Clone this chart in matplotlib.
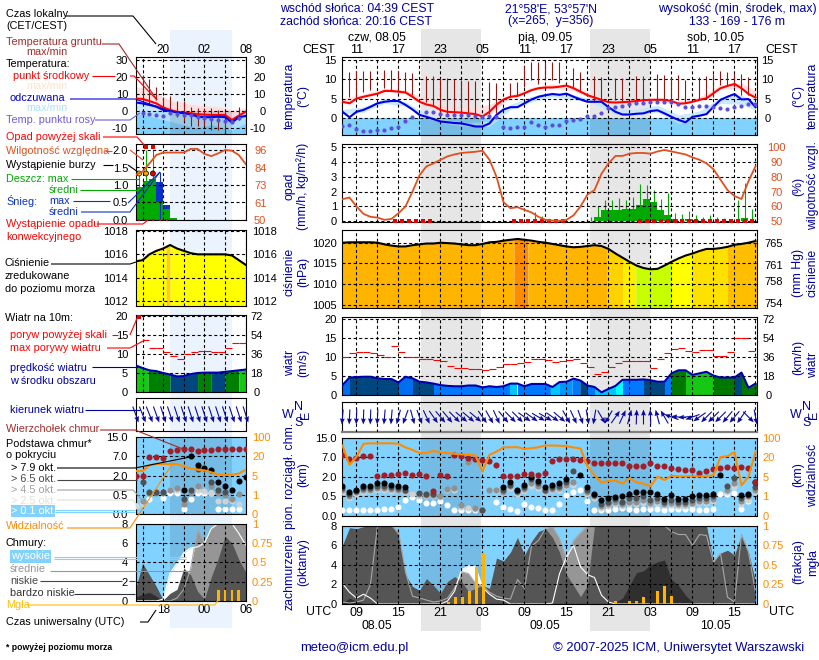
import numpy as np
import matplotlib
matplotlib.use("Agg")
import matplotlib.pyplot as plt

plt.rcParams['font.family'] = ['Liberation Sans', 'DejaVu Sans']
plt.rcParams['font.size'] = 8
plt.rcParams['lines.scale_dashes'] = False
plt.rcParams['axes.linewidth'] = 0.8
nan = np.nan

# ------------------------- long panels (hourly, first value 07 UTC 08.05) ---
temp_mid = [4.2,3.8,5.0,5.5,5.9,6.3,7.0,7.0,6.8,6.6,
            5.5,4.2,3.5,3.1,2.1,1.6,1.5,1.4,1.2,1.0,
            0.4,1.6,3.4,4.8,5.5,5.7,6.4,7.2,7.7,7.9,
            7.9,8.1,8.4,7.7,6.8,5.9,5.3,4.7,4.1,4.0,
            4.1,4.2,4.4,4.6,4.7,4.7,4.7,4.4,3.7,3.8,
            4.2,4.7,5.1,6.4,7.7,8.3,8.8,7.7,6.2,5.3]
temp_feel = [1.6,0.2,1.6,2.1,2.9,3.8,4.2,4.4,4.4,3.4,
             2.2,0.8,0.3,-0.3,-0.9,-1.1,-1.3,-1.4,-1.8,-2.2,
             -2.2,-1.4,0.8,2.2,2.8,2.8,3.8,4.8,5.5,5.9,
             6.2,6.0,6.3,5.5,4.8,4.2,4.2,4.2,2.8,1.6,
             0.9,0.9,1.1,1.2,1.8,2.0,1.2,0.3,-0.5,-1.1,
             0.3,0.6,1.0,2.9,4.7,5.5,6.2,4.8,4.9,2.8]
temp_dew = [-2.1,-1.9,-2.9,-3.3,-3.4,-3.0,-3.2,-2.5,-2.2,-0.7,
            0.2,nan,1.6,1.6,1.0,0.9,0.9,0.9,0.9,0.5,
            0.3,0.4,0.3,-2.4,-2.7,-2.4,-2.2,-1.0,-1.9,-2.2,
            -1.9,-1.8,-0.9,-0.5,-0.2,0.5,0.5,1.4,2.5,2.9,
            3.0,3.5,3.8,4.0,4.1,4.2,4.2,4.1,3.6,2.8,
            2.8,3.1,3.1,2.9,2.5,2.2,2.9,3.1,3.6,3.6]
band_t = [7,10,13,16,19,22,25,28,31,34,37,40,43,46,49,52,55,58,61,64,66]
pink_hi = [5,6.2,7.6,7.3,4.8,3,2.6,3.5,6,7.9,8.8,8.3,5.8,4.6,4.9,5.2,4.3,5.4,8.5,9,7]
pink_lo = [3.8,5.2,6.8,6.3,3.3,1.5,1,0.8,5.2,7,7.7,7,4.8,3.8,4,4.4,3.4,4.5,7.5,7.5,5]
feel_hi = [2.2,2.9,5,4.2,1,-0.5,-1.2,-0.8,3.5,5.6,6.7,6,4.7,2.5,2.2,3.3,0.8,1.8,5.3,6,4]
feel_lo = [1,1.5,3.8,3,-0.2,-1.5,-2.2,-2.2,2.2,4.2,5.5,4.8,3.7,0.8,0.7,1.5,-1.4,0.3,3.8,3.5,2]
soil_t = [8,9,10,11,13,14,15,16,17,19,20,21,22,23,24,25,26,28,29,31,32,33,34,35,36,37,38,
          40,41,43,44,46,47,49,50,52,53,54,55,56,58,59,60,61,62,63,64,65]
soil_max = [11.8,12.2,12.2,12.2,12.4,12.4,12.2,11.8,11.6,10.9,10.9,10.3,10.3,10,9.8,9.6,9.6,9.2,9,9,9.4,13.5,14.4,14.4,14.6,14.6,14.6,
            13,11.8,10.9,10.7,10.3,10.3,10.9,10.9,11.4,11.1,10.7,11.1,9.8,10.7,10.9,11.4,12.2,12,11.6,11.4,10.5]
soil_min = [5.5,5.1,6.8,7.2,7.7,7.2,7.2,6.8,5.9,4.2,3.4,1.2,0.8,0.8,0.8,0.3,0.2,1,1.2,5.7,5.9,8.1,9.8,8.8,9.8,9.8,9,
            7.9,6.8,4.2,4.7,4.7,4.2,4.1,4.2,4.7,4.7,4.2,4.7,3.8,4.7,4.9,5.5,8.5,8.5,8.1,5.9,5.9]

humidity = [64.9,66,60,55,53,52.5,51,51.6,55.4,60,
            70,81,87,89,91.4,93.7,95,96,96.4,96.8,
            97.5,91.4,80,62.8,58.8,59.5,57.7,56,53,51,
            50.5,50.3,51,54,60,68,71,82,89,94,
            94,95.5,96,96,95.5,97,98,97,96,95,
            93,91.4,89,85,78,71,67,65,77,87]
rain_mean = [0,0,0,0,0,0,0,0,0,0,
             0,0,0,0,0,0,0,0,0,0,
             0,0,0,0,0,0,0,0.02,0.02,0,
             0,0,0,0,0,0.05,0.3,0.75,0.75,0.75,
             0.8,0.8,1.1,1.5,1.3,0.75,0.4,0.13,0.05,0.13,
             0.1,0.05,0.05,0.05,0.05,0.05,0.05,0.2,0.05,0]
rain_max = [0,0,0,0,0,0,0,0,0,0,
            0,0,0,0,0,0,0,0,0,0,
            0,0,0,0,0,0,0,0.65,0.35,0,
            0,0,0,0,0,0.3,1,1.45,1.4,1.55,
            1.45,1.65,2.5,2.45,2.1,1.5,1.9,0.55,0.5,0.7,
            0.45,0.3,0.45,0.3,0.2,0,1.45,2.55,0.8,0]
conv_hours = [14.5,15.5,16.5,17.5,18.5,19.5,31.5,32.5,33.5,34.5,35.5,36.5,37.5,38.5,
              49.5,50.5,51.5,52.5,53.5,54.5,55.5,56.5,57.5,58.5,59.5,60.5,61.5,62.5,63.5,64.5,65.5]

pressure = [1020,1020.1,1020.1,1020.1,1020.1,1020,1019.6,1019.3,1019.1,1019.1,
            1019.4,1019.6,1019.8,1019.8,1020,1019.9,1019.8,1019.6,1019.4,1019.4,
            1019.7,1020.1,1020.2,1020.5,1020.7,1020.9,1020.7,1020.5,1020.2,1020,
            1019.7,1019.4,1019.1,1018.9,1019,1019.2,1019.4,1019.2,1018.5,1017.4,
            1016.4,1015.4,1014.5,1013.9,1013.6,1013.7,1014.5,1015.4,1016.2,1016.9,
            1017.4,1018,1018.5,1018.5,1018.7,1019,1019.5,1019.7,1020,1020.4]
press_breaks = [7,31.5,33.5,44.8,47,48.9,54,57,62,66.3]
press_colors = ['#ffb400','#ff8c00','#ffb400','#ffd200','#fff000','#c8ff00','#ffff00','#ffe100','#ffbe00']

wind_speed = [2.6,4.6,4.7,4.8,4.8,4.4,4.2,4.2,3.3,4.8,
              4.4,3.5,3.3,3,2.6,2.4,2.3,2.3,2.5,2.5,
              2,2.3,2.1,2.3,3,3,2.3,2.9,2.9,2.9,
              2.1,3.4,3.5,4.3,3.8,2.5,2.1,0.7,1.6,2.4,
              4,4,4,4.1,3.9,3.5,3.5,5.7,6.5,6.5,
              5.3,5.7,6.1,5.1,4.6,4.6,4.6,5.9,1.9,3]
wind_gust = [10,11,11.3,11.3,11,10.6,10,12.8,11.3,10,
             10,9.4,9.4,9.1,8.9,7.6,7,7,6.8,6.8,
             6.5,6.8,7.4,8.1,8.1,8.4,8.6,9.4,9.4,9.2,
             8.8,9,9.3,9.6,8.5,7.3,5.4,6,7.5,8.4,
             8.9,8.9,8.9,8.9,7,9.4,11,12,12.5,11.7,
             11.3,11.8,11.8,10.2,10.2,11.3,15.1,14.9,11.5,nan]
wind_breaks = [7,8,15,17,20,31,32,36.7,37.9,39.8,40.9,42,43,46,47,50,53,54,56,60,63,64,66.3]
wind_colors = ['#006ef0','#00467f','#006ef0','#00467f','#0078ff','#00c8ff','#0078ff','#00c8ff','#0096ff','#0078ff',
               '#00467f','#0078ff','#00c8ff','#00ffff','#0078ff','#00467f','#0078ff','#007800','#14c814','#007800','#00467f','#007800','#0078ff']
wind_from = [5,3,2,2,2,3,5,5,15,20,
             345,340,335,325,320,320,315,310,310,310,
             325,330,335,320,315,315,305,305,300,300,
             305,310,330,335,340,350,10,330,30,215,
             205,195,182,180,178,165,150,110,95,85,
             70,55,45,45,45,40,40,35,315,350]

cloud_top = [8,6.5,6.9,7.4,7.4,2.3,2.4,2.5,2.7,2.9,
             2.5,2.8,2.2,0.9,2.4,2.3,7.7,7.3,6.8,6.6,
             6.3,5.9,5.1,2.3,2.2,2.2,2.7,2.6,2.4,2.9,
             6,6.5,6.6,6.5,6.3,6,5.6,5.6,5.4,5.4,
             5.6,4.8,4.7,4.8,5.4,4.8,4.7,4.3,4,3.8,
             3.6,2.9,3.4,3.9,4.3,4.4,4.3,4.5,4.3,1.6]
base_79 = [1.3,0.8,1.0,1.3,1.3,1.5,1.5,1.4,1.3,1.2,
           nan,nan,nan,nan,nan,nan,nan,nan,nan,nan,
           nan,nan,nan,1.2,1.6,1.0,1.4,2,1.7,1.2,
           1.4,1.5,1.8,nan,2.4,1.2,0.7,0.4,0.45,0.48,
           0.5,0.7,0.8,0.8,0.8,0.7,0.43,0.6,0.43,0.43,
           0.5,0.57,0.57,0.67,2.4,nan,nan,0.57,0.7,1.6]
base_65 = [1.1,0.65,0.9,1.1,1.15,1.3,1.3,1.2,1.15,1.0,
           nan,0.75,0.7,0.7,nan,nan,nan,nan,nan,nan,
           0.15,nan,nan,1.0,1.4,0.9,1.2,1.8,1.5,1.0,
           1.2,1.3,1.6,3.5,nan,1.0,0.6,0.3,0.35,0.42,
           0.35,0.45,0.45,0.5,0.4,0.45,0.35,0.4,0.35,0.35,
           0.4,0.45,0.45,0.5,nan,1.3,1.9,0.45,0.6,1.2]
base_45 = [0.95,0.55,0.8,0.95,1.0,1.15,1.15,1.05,1.0,0.9,
           nan,0.7,0.6,0.6,0.55,1.05,1.1,0.27,5.8,0.2,
           0.15,1.0,1.0,0.85,1.3,0.8,1.05,1.5,1.3,0.9,
           1.05,1.15,1.4,1.6,nan,0.85,0.5,0.25,0.3,0.35,
           0.3,0.35,0.35,0.4,0.33,0.38,0.3,0.33,0.3,0.3,
           0.33,0.38,0.38,0.42,nan,1.0,1.5,0.38,0.5,1.0]
base_25 = [0.8,0.45,0.7,0.8,0.9,1.0,1.0,0.9,0.9,0.8,
           0.7,0.55,0.5,0.5,0.48,0.95,1.0,0.22,0.2,0.17,
           nan,nan,0.9,0.75,1.15,0.7,0.9,1.3,1.15,0.8,
           0.95,1.0,1.25,1.35,nan,0.7,0.45,0.2,0.25,0.3,
           0.25,0.3,0.3,0.33,0.28,0.33,0.27,0.28,0.25,0.25,
           0.3,0.33,0.33,0.37,nan,0.85,1.2,0.3,0.4,0.85]
base_01 = [0.14,0.14,0.14,0.14,0.14,0.14,0.16,0.18,0.23,0.41,
           0.47,0.41,0.32,0.33,0.37,0.27,0.15,0.15,0.15,0.15,
           nan,nan,0.36,0.23,0.17,0.13,0.31,0.22,0.19,0.14,
           0.15,0.29,0.58,0.86,0.96,0.37,0.14,0.14,0.14,0.17,
           0.19,0.16,0.15,0.16,0.16,0.17,0.15,0.16,0.17,0.16,
           0.16,0.14,0.14,0.16,0.65,0.65,0.73,0.16,0.37,nan]
visibility = [68,14,22,75,77,77,77,77,75,60,
              50,37,37,46,39,37,34,32,30,27,
              9,30,43,60,61,61,54,57,61,68,
              68,67,65,60,56,13,6.3,3.8,4.1,4.2,
              3.6,4.7,3.8,3.6,3,5,4.3,5.8,5.2,5.3,
              5.4,5.2,5.3,6.2,20.6,24,41,3.2,5,43]
cld_high = [2.1,1.2,0.6,1,0.6,0,0,0,0,0,
            0,0,0,0,0,0.3,1.3,3.5,3.9,3.8,
            1.7,1,0.5,0.4,0,0,0,0,0,0,
            0.1,3.1,4.8,6,3.8,3,2.7,0.9,0.2,0,
            0,0,0,0,0,0,0,0,0,0,
            0,0,0,0,0,0,0,0,0,0]
cld_mid = [0.2,0.1,0.2,0.4,2,8,8,8,7.4,3.3,
           0.8,0.6,0.4,0.2,0.3,0.6,1.6,3.3,3.1,2.1,
           1.9,1.2,0.8,0.6,0.5,2.5,1.6,5.9,6.5,7.7,
           7.9,6.7,4.5,6.5,7.3,8,8,8,8,8,
           8,8,8,8,8,8,8,7.4,7.1,7.1,
           6,7.1,7,4.3,5.2,0.7,0.2,7.1,5.3,1.2]
cld_low = [6,7.8,7.7,7.9,8,8,8,8,7,3,
           1.8,1.4,2.6,1.9,1.1,2.3,2.8,2.3,1.3,1.6,
           1.9,1.6,4.7,4.4,5.3,6.8,5,6.4,7.4,7.7,
           6.8,5.3,3,1.9,0.75,1.9,8,8,8,8,
           8,8,8,8,8,8,8,8,8,8,
           8,8,8,4.3,5.2,5.5,5,7.1,5.3,2.3]
cld_vlow = [0.1,0.6,0.3,0,0,0,0,0,0,0,
            0,0,0,0,0,0,0,0,0,0,
            0,0,0,0,0,0,0,0,0,0,
            0,0,0,0,0,0,0,0,0,0.2,
            0.6,1.9,3.2,3.4,4,4.3,4.5,2.5,1.9,0.9,
            0.2,0,0,0,0,0,0,0,0,0]
fog_t = [22.1,23.1,24.1,25.1,26.1,27.1,46,48,49,50,52,53,54]
fog_v = [0.03,0.085,0.09,0.16,0.47,0.65,0.04,0.04,0.04,0.085,0.16,0.23,0.1]

# ------------------------- short panels (first value 14 UTC 08.05) ----------
s_temp = [7.3,7,5.8,4.4,2.1,0.6,-0.4,-1,-1.3,-1.9,-2.1,-2.3,-2.3,-2.3,-5.2,-2.7,-0.4]
s_feel = [5,4.4,3.5,2.5,0.6,0,-0.8,-1.3,-1.9,-3.3,-3.6,-3.6,-3.3,-3.6,-6.7,-3.6,-2.9]
s_hi = [14,13.5,12,10.5,8.5,6,5.5,5,4,3.5,3,3,2.5,2,0.5,1,2]
s_lo = [6,5.5,4.5,3,1,-0.3,-1,-1.5,-2,-2.5,-3,-3,-3,-3,-6,-3.5,-1]
s_fhi = [6.5,6,5,4,2,1,0,-0.5,-1,-2,-2.5,-2.5,-2.5,-2.5,-5,-2.5,-1.5]
s_flo = [-2,-2,-3,-4,-5,-6,-7,-8,-9,-10,-9,-8,-9,-10,-11,-9,-7]
s_dew = [nan,-1.3,-2,-2.3,-2.7,-1.3,-2,-2.3,-2.3,-3.6,-4.2,-4.8,-5.2,-5.6,-6.2,-4.2,nan]
s_soil_t = [15,16,17,18,19,20,21,22,23,24,25,26,27,29]
s_soil_max = [20.8,18.8,14,8,9,6,6,2.5,1.5,1.5,1.5,0.6,-0.4,2.5]
s_soil_min = [4,4,6.3,2,-2,-3.3,-6,-8.6,-8.6,-9,-11,-11,-13,-5]
s_humidity = [79.6,81.8,87.2,92.7,94.3,94.3,94.3,94.3,96.7,96.7,93.4,92,93.8,96,95.5,92.7,86.8]
s_rain = [0.95,1.1,1.17,0.52,0.3,0.05]
s_snow = [0,0,0,0.57,0.13,0]
s_rain_max = [1.33,2.0,2.0,0,0,0]
s_snow_max = [0,0,0,1.38,0,0]
s_over_t = [15.5,16.5]
s_storm_t = [14.5,15.5,16.5]
s_storm_c = ['#ffe000','#ff9c00','#e80000']
s_conv = [14.5,15.5,16.5,17.5,18.5]
s_press = [1015.4,1015.5,1016,1016.3,1016.5,1016.8,1016.5,1016.3,1016.1,1016,1016,1016,1016,1016,1015.9,1015.5,1015.1]
s_speed = [7,6.3,5.7,5.5,5,4.6,4.1,4.2,4.7,5,5.1,5.1,5.1,5.3,5.5,5.7,5.9]
s_gust = [nan,13.6,11.6,11.5,10.6,9.6,8.8,10,10.6,10.8,10.9,10.6,10.6,11.7,12.8,13,nan]
s_wind_breaks = [14,15.8,19,23,25,27,29,30]
s_wind_colors = ['#14c814','#008000','#00467f','#008000','#00467f','#008000','#14c814']
s_from = [340,338,338,340,342,342,342,342,342,342,342,342,342,342,342,342,342]
s_top = [2,2,6.8,6.8,6.5,9.1,9.8,10,10,9.1,9.8,9.8,10,10,10,10,10]
s_79 = [nan,nan,nan,nan,nan,nan,nan,0.9,7,4.8,3.9,3.3,1.5,1.2,0.9,1.6,1.9]
s_65 = [nan,1.5,0.7,0.7,0.7,nan,nan,0.4,0.9,3.6,nan,1.5,0.9,0.7,nan,nan,nan]
s_45 = [nan,0.35,0.65,0.65,0.65,0.9,1,0.25,0.65,1.2,nan,1.2,0.65,0.5,0.4,0.55,nan]
s_25 = [0.2,0.25,nan,nan,nan,0.85,0.85,nan,0.85,0.85,0.8,0.65,0.35,0.35,0.35,0.25,nan]
s_01 = [nan,0.28,0.39,nan,0.42,0.6,0.6,0.13,0.39,0.6,0.6,0.6,0.13,0.13,0.13,0.13,nan]
s_vis = [8.4,8.4,13,14,14,14,14,12,10.5,9.5,9,7.5,5.8,5.5,5.6,6.5,9.5]
s_high = [0,0,0,0,0.2,2.9,3.9,5,5.5,5.6,6,7.5,8,8,8,7,5.8]
s_mid = [0,0,0,0,0,0,0.3,1.2,3.4,7.4,6,7.6,8,8,8,8,8]
s_low = [1.3,3.9,2.7,1.5,0.1,0.8,1.2,3.4,2.7,1,0.2,2.5,4.4,6.7,6,4.3,3]
s_vlow = [0.4,0.7,0.9,0.5,0,0,0,0,0,0,0,0,0,0,0,0,0]
s_fog_t = [26,27,28,29]
s_fog_v = [0.14,0.14,0.14,0.14]

# ------------------------- axis labels --------------------------------------
top_hours = [9,15,21,27,33,39,45,51,57,63]
top_labels = ['11','17','23','05','11','17','23','05','11','17']
bot_labels = ['09','15','21','03','09','15','21','03','09','15']
s_hours = [18,24,30]
s_top_labels = ['20','02','08']
s_bot_labels = ['18','00','06']
base_ticks = [0,0.5,2,7,15]
vis_ticks = [0,1,5,20,100]

# ------------------------- colours ------------------------------------------
NAVY = '#0000a0'; SKY = '#82d2ff'; RED = '#ff0000'; ORED = '#e1501e'; ORANGE = '#ff8c00'
BROWN = '#a52a2a'; SOIL = '#961414'; GREEN = '#00aa00'; SNOW = '#0a32c8'; FOG = '#ffb400'

hours = np.arange(7, 67)
shours = np.arange(14, 31)
fig = plt.figure(figsize=(8.2, 6.6), dpi=100, facecolor='white')

def box(l, t, r, b):
    return fig.add_axes([l/820, 1-b/660, (r-l)/820, (b-t)/660], facecolor='none')

def lim(top, bot, y1, v1, y2, v2):
    k = (v2-v1)/(y2-y1)
    return v1+(bot-y1)*k, v1+(top-y1)*k

bg = fig.add_axes([0, 0, 1, 1], zorder=-5)
bg.set_xlim(0, 820); bg.set_ylim(660, 0); bg.axis('off')
bg.axvspan(421, 481, ymin=1-631/660, ymax=1-29/660, color='#e6e6e6', lw=0)
bg.axvspan(590, 650, ymin=1-631/660, ymax=1-29/660, color='#e6e6e6', lw=0)
bg.axvspan(170, 232, ymin=1-628/660, ymax=1-30/660, color='#ebf3ff', lw=0)

def style(ax, xt, yt, ylabels, ypad):
    ax.set_xticks(xt); ax.set_xticklabels([])
    ax.set_yticks(yt); ax.set_yticklabels(ylabels)
    ax.tick_params(length=0, pad=ypad, labelsize=8)
    ax.set_axisbelow(False)
    ax.grid(True, color='black', lw=0.8, ls=(0, (2.2, 1.8)))

def right(ax, ylim, vals, labels, color, pad, ha='left', scale=None):
    tw = ax.twinx()
    tw.set_facecolor('none')
    if scale is not None:
        tw.set_yscale('function', functions=scale)
    tw.set_ylim(*ylim)
    tw.set_yticks(vals); tw.set_yticklabels(labels, color=color, ha=ha)
    tw.minorticks_off()
    tw.tick_params(length=0, pad=pad, labelsize=8)
    for s in tw.spines.values():
        s.set_visible(False)
    return tw

def shade(ax, spans, y0=None, y1=None):
    for a, b in spans:
        if y0 is None:
            ax.axvspan(a, b, color='black', alpha=0.1, lw=0, zorder=1.2)
        else:
            ax.fill_between([a, b], y0, y1, color='black', alpha=0.1, lw=0, zorder=1.2)

def strips(ax, t, y, breaks, colors, floor):
    t = np.asarray(t, float)
    for a, b, c in zip(breaks[:-1], breaks[1:], colors):
        ts = np.unique(np.r_[a, b, t[(t > a) & (t < b)]])
        ax.fill_between(ts, floor, np.interp(ts, t, y), color=c, lw=0, zorder=1)

SPAN_L = [(14+(170-135.7)/6.875, 14+(232-135.7)/6.875)]
SPAN_M = [(7+(421-342.5)/7, 7+(481-342.5)/7), (7+(590-342.5)/7, 7+(650-342.5)/7)]

def panel_temp(ax, t, mid, feel, dew, b_t, phi, plo, fhi, flo, st, smax, smin, spans):
    y0 = ax.get_ylim()[0]
    ax.fill_between([t[0], 100], y0, 0, color=SKY, lw=0, zorder=1)
    ax.fill_between(b_t, phi, plo, color='#ffdcdc', alpha=0.9, lw=0, zorder=1.1)
    ax.fill_between(b_t, fhi, flo, color='#bce4ff', alpha=0.8, lw=0, zorder=1.1)
    shade(ax, spans, y0, 0)
    ax.vlines(st, smin, smax, color=SOIL, lw=0.8, zorder=3)
    ax.plot(t, mid, color=RED, lw=1.5, zorder=4)
    ax.plot(t, feel, color='#0000e6', lw=1.5, zorder=4)
    ax.plot(t, dew, ls='none', marker='o', ms=3, color='#5a50dc', mew=0, zorder=4.5)

def panel_cloud(ax, t, hi, mid, low, vlow):
    ax.axhspan(*ax.get_ylim(), color=SKY, lw=0, zorder=1)
    shade(ax, SPAN_M if t[0] == 7 else SPAN_L)
    ax.fill_between(t, 0, hi, color='white', lw=0, zorder=1.3)
    ax.fill_between(t, 0, mid, color='#969696', lw=0, zorder=1.4)
    ax.fill_between(t, 0, low, color='#555555', lw=0, zorder=1.5)
    ax.fill_between(t, 0, vlow, color='#2f2f2f', lw=0, zorder=1.6)
    ax.plot(t, mid, color='#a8a8a8', lw=0.8, zorder=2)
    ax.plot(t, hi, color='white', lw=0.8, zorder=2.1)

base_fn = (lambda v: np.interp(v, base_ticks, range(5)), lambda p: np.interp(p, range(5), base_ticks))
vis_fn = (lambda v: np.interp(v, vis_ticks, range(5)), lambda p: np.interp(p, range(5), vis_ticks))

def panel_base(ax, t, top, b79, b65, b45, b25, b01, size):
    ax.axhspan(0, 15, color=SKY, lw=0, zorder=1)
    shade(ax, SPAN_M if t[0] == 7 else SPAN_L)
    ax.plot(t, b01, 'o', color='white', ms=size, mew=0, zorder=3)
    ax.plot(t, b25, 'o', color='#d2d2d2', ms=size, mew=0, zorder=3.1)
    ax.plot(t, b45, 'o', color='#909090', ms=size, mew=0, zorder=3.2)
    ax.plot(t, b65, 'o', color='#505050', ms=size, mew=0, zorder=3.3)
    ax.plot(t, b79, 'o', color='black', ms=size, mew=0, zorder=3.4)
    ax.plot(t, top, 'o', color='#a01e28', ms=size, mew=0, zorder=3.5)

# ===================== long panels =====================
XM = (342.5, 757.3)
xlim_m = (7, 7+(XM[1]-XM[0])/7)
grid_m = list(range(9, 67, 3))

a = box(XM[0], 57, XM[1], 135)
a.set_xlim(*xlim_m); a.set_ylim(*lim(57, 135, 60, 15, 118, 0))
style(a, grid_m, [0, 5, 10, 15], ['0', '5', '10', '15'], 4)
panel_temp(a, hours, temp_mid, temp_feel, temp_dew, band_t, pink_hi, pink_lo, feel_hi, feel_lo,
           soil_t, soil_max, soil_min, SPAN_M)
a.xaxis.set_ticks_position('top')
a.set_xticklabels([top_labels[top_hours.index(h)] if h in top_hours else '' for h in grid_m])
a.tick_params(axis='x', pad=1, length=0, labelsize=9)
right(a, a.get_ylim(), [0, 5, 10, 15], ['0', '5', '10', '15'], 'black', 7.2, 'center')

a = box(XM[0], 144, XM[1], 222)
a.set_xlim(*xlim_m); yl = lim(144, 222, 147, 5, 221.3, 0); a.set_ylim(*yl)
style(a, grid_m, [0, 1, 2, 3, 4, 5], list('012345'), 4)
a.bar(hours, rain_mean, width=1, align='edge', color=GREEN, lw=0, zorder=1)
a.vlines(hours+0.5, 0, rain_max, color=GREEN, lw=0.8, zorder=1.1)
a.plot(conv_hours, [0]*len(conv_hours), 's', color='#e60000', ms=2.4, mew=0, zorder=5, clip_on=False)
tw = right(a, lim(144, 222, 147, 100, 221.3, 50), [50, 60, 70, 80, 90, 100],
           ['50', '60', '70', '80', '90', '100'], ORED, 14, 'center')
tw.plot(hours, humidity, color=ORED, lw=1.3, zorder=4)

a = box(XM[0], 230, XM[1], 308)
a.set_xlim(*xlim_m); yl = lim(230, 308, 242.7, 1020, 305, 1005); a.set_ylim(*yl)
style(a, grid_m, [1005, 1010, 1015, 1020], ['1005', '1010', '1015', '1020'], 4)
strips(a, hours, pressure, press_breaks, press_colors, yl[0])
a.plot(hours, pressure, color='black', lw=1.5, zorder=4)
right(a, yl, [1005.4, 1010.7, 1014.7, 1020], ['754', '758', '761', '765'], 'black', 12, 'center')

a = box(XM[0], 317, XM[1], 395)
a.set_xlim(*xlim_m); yl = lim(317, 395, 319, 20, 395, 0); a.set_ylim(*yl)
style(a, grid_m, [0, 5, 10, 15, 20], ['0', '5', '10', '15', '20'], 4)
strips(a, hours, wind_speed, wind_breaks, wind_colors, 0)
a.plot(hours, wind_speed, color='#0000aa', lw=1.5, zorder=4)
a.hlines(wind_gust, hours, hours+1, color=RED, lw=0.8, zorder=4)
right(a, (yl[0]*3.6, yl[1]*3.6), [0, 18, 36, 54, 72], ['0', '18', '36', '54', '72'], 'black', 8, 'center')

def arrows(ax, t, frm, length):
    th = np.radians(np.asarray(frm, float)+180)
    ax.quiver(t, np.full(len(t), 0.5), np.sin(th)*length, np.cos(th)*length, units='dots', angles='uv',
              scale_units='dots', scale=1, pivot='mid', width=1.1, headwidth=4.5, headlength=5.5,
              headaxislength=5, color='#0a0aa0', zorder=4, clip_on=False)

a = box(XM[0], 402, XM[1], 432)
a.set_xlim(*xlim_m); a.set_ylim(0, 1)
style(a, grid_m, [], [], 4)
a.spines['bottom'].set_color('#808080'); a.spines['bottom'].set_linewidth(1.6)
arrows(a, hours, wind_from, 15)

a = box(XM[0], 437.7, XM[1], 515.7)
a.set_yscale('function', functions=base_fn)
a.set_xlim(*xlim_m); a.set_ylim(0, 15)
style(a, grid_m, base_ticks, ['0.0', '0.5', '2.0', '7.0', '15.0'], 4)
a.minorticks_off()
panel_base(a, hours, cloud_top, base_79, base_65, base_45, base_25, base_01, 4.4)
tw = right(a, (0, 100), vis_ticks, ['0', '1', '5', '20', '100'], ORANGE, 3.6, 'left', vis_fn)
tw.plot(hours, visibility, color=ORANGE, lw=1.5, zorder=4)

a = box(XM[0], 525.7, XM[1], 604)
a.set_xlim(*xlim_m); a.set_ylim(0, 8)
style(a, grid_m, [0, 2, 4, 6, 8], ['0', '2', '4', '6', '8'], 4)
panel_cloud(a, hours, cld_high, cld_mid, cld_low, cld_vlow)
a.set_xticklabels([bot_labels[top_hours.index(h)] if h in top_hours else '' for h in grid_m])
a.tick_params(axis='x', pad=2, length=0, labelsize=9)
tw = right(a, (0, 1), [0, 0.25, 0.5, 0.75, 1], ['0', '0.25', '0.5', '0.75', '1'], ORANGE, 3.6)
tw.bar(fog_t, fog_v, width=0.4, color=FOG, lw=0, zorder=4)

# ===================== short panels =====================
XS = (135.7, 245.7)
xlim_s = (14, 30)
grid_s = list(range(15, 31, 3))

a = box(XS[0], 57, XS[1], 134)
a.set_xlim(*xlim_s); yl = lim(57, 134, 59.5, 30, 111, 0); a.set_ylim(*yl)
style(a, grid_s, [-10, 0, 10, 20, 30], ['-10', '0', '10', '20', '30'], 5.5)
panel_temp(a, shours, s_temp, s_feel, s_dew, shours, s_hi, s_lo, s_fhi, s_flo, s_soil_t, s_soil_max, s_soil_min, SPAN_L)
a.xaxis.set_ticks_position('top')
a.set_xticklabels([s_top_labels[s_hours.index(h)] if h in s_hours else '' for h in grid_s])
a.tick_params(axis='x', pad=1, length=0, labelsize=8.5)
right(a, yl, [-10, 0, 10, 20, 30], ['-10', '0', '10', '20', '30'], 'black', 14.4, 'right')

a = box(XS[0], 144, XS[1], 220)
a.set_xlim(*xlim_s); yl = lim(144, 220, 150, 2, 220, 0); a.set_ylim(*yl)
style(a, grid_s, [0, 0.5, 1, 1.5, 2], ['0.0', '0.5', '1.0', '1.5', '2.0'], 5.5)
sh = shours[:len(s_rain)]
a.bar(sh, s_rain, width=1, align='edge', color=GREEN, lw=0, zorder=1)
a.bar(sh, s_snow, bottom=s_rain, width=1, align='edge', color=SNOW, lw=0, zorder=1)
a.vlines(sh+0.5, 0, s_rain_max, color=GREEN, lw=0.8, zorder=1.1)
a.vlines(sh+0.5, 0, s_snow_max, color=SNOW, lw=0.8, zorder=1.1)
a.plot(s_over_t, [2.1]*len(s_over_t), 's', color='#e60000', ms=2.8, mew=0, zorder=5)
a.scatter(s_storm_t, [1.33]*len(s_storm_t), c=s_storm_c, s=13, edgecolors='black', linewidths=0.5, zorder=5)
a.plot(s_conv, [0]*len(s_conv), 's', color='#e60000', ms=2, mew=0, zorder=5, clip_on=False)
tw = right(a, lim(144, 220, 150, 96, 220, 50), [50, 61, 73, 84, 96], ['50', '61', '73', '84', '96'], ORED, 6)
tw.plot(shours, s_humidity, color=ORED, lw=1.3, zorder=4)

a = box(XS[0], 230, XS[1], 306)
a.set_xlim(*xlim_s); yl = lim(230, 306, 231, 1018, 301, 1012); a.set_ylim(*yl)
style(a, grid_s, [1012, 1014, 1016, 1018], ['1012', '1014', '1016', '1018'], 5.5)
strips(a, shours, s_press, [14, 18.4, 19, 30], ['#ffff00', '#ffd200', '#ffff00'], yl[0])
a.plot(shours, s_press, color='black', lw=1.5, zorder=4)
right(a, yl, [1012, 1014, 1016, 1018], ['1012', '1014', '1016', '1018'], 'black', 4.5)

a = box(XS[0], 315, XS[1], 392)
a.set_xlim(*xlim_s); yl = lim(315, 392, 316, 20, 392, 0); a.set_ylim(*yl)
style(a, grid_s, [0, 5, 10, 15, 20], ['0', '5', '10', '15', '20'], 5.5)
strips(a, shours, s_speed, s_wind_breaks, s_wind_colors, 0)
a.plot(shours, s_speed, color='#0000aa', lw=1.5, zorder=4)
a.hlines(s_gust, shours, shours+1, color=RED, lw=0.8, zorder=4)
a.plot([14.45], [19.8], 's', color='#e60000', ms=2.8, mew=0, zorder=5)
right(a, (yl[0]*3.6, yl[1]*3.6), [0, 18, 36, 54, 72], ['0', '18', '36', '54', '72'], 'black', 8, 'center')

a = box(XS[0], 398, XS[1], 431)
a.set_xlim(*xlim_s); a.set_ylim(0, 1)
style(a, grid_s, [], [], 4)
arrows(a, shours, s_from, 17)

a = box(XS[0], 437, XS[1], 514)
a.set_yscale('function', functions=base_fn)
a.set_xlim(*xlim_s); a.set_ylim(0, 15)
style(a, grid_s, base_ticks, ['0.0', '0.5', '2.0', '7.0', '15.0'], 5.5)
a.minorticks_off()
panel_base(a, shours, s_top, s_79, s_65, s_45, s_25, s_01, 4.4)
tw = right(a, (0, 100), vis_ticks, ['0', '1', '5', '20', '100'], ORANGE, 4.5, 'left', vis_fn)
tw.plot(shours, s_vis, color=ORANGE, lw=1.5, zorder=4)

a = box(XS[0], 523.7, XS[1], 601)
a.set_xlim(*xlim_s); a.set_ylim(0, 8)
style(a, grid_s, [0, 2, 4, 6, 8], ['0', '2', '4', '6', '8'], 5.5)
panel_cloud(a, shours, s_high, s_mid, s_low, s_vlow)
a.set_xticklabels([s_bot_labels[s_hours.index(h)] if h in s_hours else '' for h in grid_s])
a.tick_params(axis='x', pad=2, length=0, labelsize=8.5)
tw = right(a, (0, 1), [0, 0.25, 0.5, 0.75, 1], ['0', '0.25', '0.5', '0.75', '1'], ORANGE, 4.5)
tw.bar(s_fog_t, s_fog_v, width=0.4, color=FOG, lw=0, zorder=4)

# ===================== overlay text =====================
ov = fig.add_axes([0, 0, 1, 1], zorder=20, facecolor='none')
ov.set_xlim(0, 820); ov.set_ylim(660, 0); ov.axis('off')

def T(x, y, s, c='black', ha='left', size=7.8, rot=0, **kw):
    ov.text(x, y, s, color=c, ha=ha, va='center', fontsize=size, rotation=rot, **kw)

def L(pts, c='black', lw=0.8):
    ov.plot([p[0] for p in pts], [p[1] for p in pts], color=c, lw=lw, solid_capstyle='butt')

# header
HD = 8.8
T(280, 9, 'wschód słońca: 04:39 CEST', NAVY, size=HD); T(280, 22, 'zachód słońca: 20:16 CEST', NAVY, size=HD)
T(551, 9, "21°58'E, 53°57'N", NAVY, 'center', HD); T(551, 21, '(x=265,  y=356)', NAVY, 'center', HD)
T(817, 9, 'wysokość (min, środek, max)', NAVY, 'right', HD); T(737, 22, '133 - 169 - 176 m', NAVY, 'center', HD)
T(377, 38, 'czw, 08.05', ha='center', size=HD); T(545, 38, 'pią, 09.05', ha='center', size=HD); T(716, 38, 'sob, 10.05', ha='center', size=HD)
T(302, 50, 'CEST', size=HD); T(765, 50, 'CEST', size=HD); T(306, 612, 'UTC', size=HD); T(769, 612, 'UTC', size=HD)
T(377, 626, '08.05', ha='center', size=HD); T(545, 626, '09.05', ha='center', size=HD); T(715, 626, '10.05', ha='center', size=HD)

# rotated panel titles
for x, y, s in [(290, 96, 'temperatura'), (303, 96, '(°C)'), (290, 186, 'opad'), (303, 186, '(mm/h, kg/m²/h)'),
                (290, 272, 'ciśnienie'), (303, 272, '(hPa)'), (290, 363, 'wiatr'), (303, 363, '(m/s)'),
                (290, 476, 'pion. rozciągł. chm.'), (303, 475, '(km)'),
                (290, 572, 'zachmurzenie'), (303, 562, '(oktanty)'),
                (798, 96, '(°C)'), (813, 96, 'temperatura'), (798, 186, '(%)'), (813, 185, 'wilgotność wzgl.'),
                (798, 273, '(mm Hg)'), (813, 273, 'ciśnienie'), (798, 357, '(km/h)'), (813, 365, 'wiatr'),
                (798, 475, '(km)'), (813, 475, 'widzialność'), (798, 562, '(frakcja)'), (813, 562, 'mgła')]:
    T(x, y, s, NAVY, 'center', size=8.8, rot=90)
for x0 in (0, 508):
    T(288+x0, 415, 'W', NAVY, 'center', 9); T(299+x0, 407, 'N', NAVY, 'center', 9)
    T(299+x0, 423, 'S', NAVY, 'center', 9); T(306+x0, 415, 'E', NAVY, 'center', 9, rot=90)

# left legend
T(6, 14, 'Czas lokalny'); T(6, 26, '(CET/CEST)')
L([(66, 16), (133, 16), (156, 44)])
T(6, 42, 'Temperatura gruntu', BROWN); T(47, 52, 'max/min', BROWN, 'center')
L([(102, 44), (119, 44), (157, 100)], BROWN)
T(6, 64, 'Temperatura:')
T(13, 76, 'punkt środkowy', RED); L([(92, 76), (115, 76)], RED); L([(130, 76), (134, 76), (157, 100)], RED)
T(47, 86, 'max/min', '#ffe1cd', 'center')
T(10, 98, 'odczuwana', '#0000dc'); L([(70, 99), (135, 99), (167, 110)], '#0000dc')
T(47, 108, 'max/min', '#aae1ff', 'center')
T(6, 120, 'Temp. punktu rosy', '#6e5adc'); L([(95, 120), (130, 120), (140, 113)], '#6e5adc')
T(6, 137, 'Opad powyżej skali', RED); L([(103, 137), (137, 137), (146, 147)], RED)
T(6, 151, 'Wilgotność względna', ORED); L([(105, 151), (112, 151)], ORED); L([(130, 150), (143, 160)], ORED)
T(6, 165, 'Wystąpienie burzy'); L([(103, 165), (113, 165)]); L([(128, 165), (138, 172)])
T(6, 179, 'Deszcz: max', GREEN); L([(71, 179), (139, 179)], GREEN)
T(49, 190, 'średni', GREEN); L([(80, 190), (140, 190)], GREEN)
T(6, 201, 'Śnieg:', SNOW); T(49, 201, 'max', SNOW); L([(73, 201), (110, 201)], SNOW); L([(128, 203), (160, 172)], SNOW)
T(49, 212, 'średni', SNOW); L([(81, 212), (130, 212), (160, 172)], SNOW)
T(6, 224, 'Wystąpienie opadu', RED); T(6, 237, 'konwekcyjnego', RED); L([(97, 224), (143, 224), (148, 220)], RED)
T(5, 263, 'Ciśnienie'); T(5, 276, 'zredukowane'); T(5, 289, 'do poziomu morza')
L([(51, 264), (130, 264), (136, 262)])
T(5, 318, 'Wiatr na 10m:')
T(10, 335, 'poryw powyżej skali', RED); L([(112, 335), (118, 335)], RED); L([(130, 335), (138, 316)], RED)
T(10, 348, 'max porywy wiatru', RED); L([(107, 348), (130, 348), (145, 340)], RED)
T(10, 368, 'prędkość wiatru', NAVY); T(10, 381, 'w środku obszaru', NAVY); L([(92, 367), (138, 367)], NAVY)
T(10, 410, 'kierunek wiatru', NAVY); L([(85, 410), (140, 410)], NAVY)
T(6, 429, 'Wierzchołek chmur', BROWN); L([(100, 430), (135, 430), (183, 449)], BROWN)
T(6, 444, 'Podstawa chmur*'); T(6, 455, 'o pokryciu')
T(11, 468, '> 7.9 okt.'); L([(57, 468), (135, 468), (190, 457)])
T(11, 479, '> 6.5 okt.', '#464646'); L([(57, 480), (137, 480)], '#464646')
T(11, 490, '> 4.5 okt.', '#a0a0a0'); L([(57, 490), (133, 490), (145, 503)], '#a0a0a0')
T(11, 501, '> 2.5 okt.', '#e1e1d7'); L([(57, 500), (133, 500), (140, 508)], '#e1e1d7')
ov.fill_between([11, 55], 505, 517, color=SKY, lw=0)
T(11, 511, '> 0.1 okt.', 'white')
L([(55, 510), (135, 510)], SKY); L([(55, 512), (135, 512)], SKY)
T(6, 526, 'Widzialność', ORANGE); L([(67, 528), (130, 528), (173, 463)], ORANGE)
T(6, 543, 'Chmury:')
ov.fill_between([10, 51], 550, 563, color=SKY, lw=0)
T(11, 556, 'wysokie', 'white')
L([(54, 557), (186, 557)], SKY); L([(54, 559), (186, 559)], SKY)
T(10, 569, 'średnie', '#969696'); L([(50, 571), (192, 571)], '#969696')
T(10, 581, 'niskie', '#464646'); L([(40, 581), (122, 581)], '#464646'); L([(129, 581), (135, 581)], '#464646')
T(10, 593, 'bardzo niskie', '#323232'); L([(74, 594), (135, 594)], '#323232')
T(6, 605, 'Mgła', '#ffbe00'); L([(27, 605), (215, 605), (218, 600)], '#ffbe00')
T(6, 622, 'Czas uniwersalny (UTC)'); L([(140, 622), (148, 622), (156, 610)])
T(6, 648, '* powyżej poziomu morza', size=6.2, fontweight='bold')
T(354, 648, 'meteo@icm.edu.pl', NAVY, 'center', 9.4)
T(679, 648, '© 2007-2025 ICM, Uniwersytet Warszawski', NAVY, 'center', 9.4)

fig.savefig('out.png', dpi=100)
